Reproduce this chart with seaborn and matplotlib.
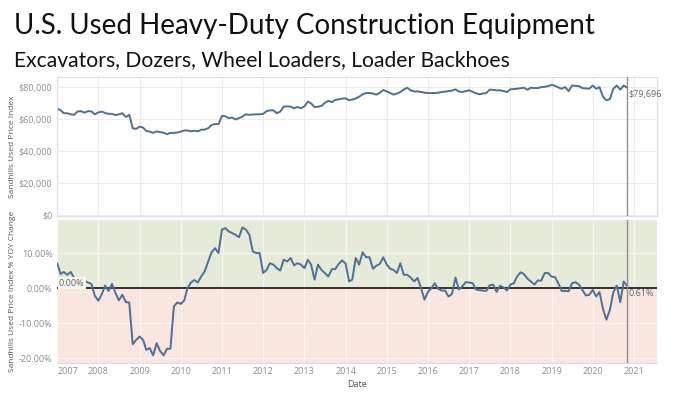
import pandas as pd
import seaborn as sns
import matplotlib.pyplot as plt
import matplotlib.dates as mdates

# monthly Sandhills used price index (thousand $), Jan 2007 - Nov 2020
price_2007 = [66.7, 65.5, 63.7, 63.7, 63.0, 62.7, 64.8, 65.0, 64.0, 65.0, 64.8, 63.0]
price_2008 = [64.2, 64.7, 63.8, 63.3, 63.3, 62.5, 63.0, 63.7, 61.4, 62.7, 54.3, 53.9]
price_2009 = [55.3, 54.7, 52.6, 52.2, 51.4, 52.4, 51.8, 51.6, 50.6, 51.4, 51.4, 51.6]
price_2010 = [52.2, 52.9, 52.9, 52.4, 52.8, 52.4, 53.4, 53.5, 54.3, 56.3, 57.0, 56.8]
price_2011 = [62.0, 61.8, 60.6, 61.0, 59.8, 60.6, 61.6, 63.0, 62.7, 62.9, 63.0, 63.0]
price_2012 = [63.3, 65.0, 65.5, 65.5, 63.7, 64.7, 67.8, 68.0, 67.8, 66.8, 67.6, 66.8]
price_2013 = [68.0, 71.0, 69.8, 67.5, 67.8, 68.2, 70.2, 71.4, 70.6, 72.0, 72.4, 72.8]
price_2014 = [73.0, 71.8, 72.2, 72.9, 74.0, 75.5, 76.3, 76.3, 76.0, 75.3, 76.5, 78.2]
price_2015 = [77.3, 76.3, 75.3, 76.0, 76.9, 78.5, 79.6, 78.0, 77.3, 77.3, 77.0, 76.5]
price_2016 = [76.3, 76.3, 76.3, 76.5, 76.9, 77.2, 77.5, 77.8, 78.6, 77.2, 77.0, 77.5]
price_2017 = [78.0, 77.0, 76.2, 75.5, 76.0, 76.3, 78.4, 78.3, 78.0, 78.0, 77.5, 76.9]
price_2018 = [78.6, 78.8, 79.0, 79.3, 79.6, 78.4, 79.6, 79.4, 79.4, 80.0, 80.2, 80.6]
price_2019 = [81.4, 80.8, 79.8, 79.0, 80.0, 77.5, 81.0, 80.8, 80.6, 79.4, 79.2, 79.0]
price_2020 = [81.0, 79.0, 80.0, 73.9, 71.8, 72.5, 79.0, 81.0, 78.4, 81.0, 79.696]

# year-over-year change (%)
yoy_2007 = [7.1, 4.0, 4.6, 3.8, 4.6, 2.9, 0.2, 0.2, 2.1, 1.6, 1.2, -2.2]
yoy_2008 = [-3.6, -1.7, 0.7, -0.8, 1.2, -1.4, -3.5, -1.9, -4.0, -4.1, -16.0, -14.8]
yoy_2009 = [-13.8, -14.8, -17.6, -17.1, -19.2, -15.7, -17.9, -19.2, -17.3, -17.3, -5.2, -4.1]
yoy_2010 = [-4.5, -3.5, 0.0, 1.6, 2.3, 1.6, 3.3, 4.8, 7.6, 10.2, 11.4, 10.0]
yoy_2011 = [16.7, 17.1, 16.2, 15.7, 15.2, 14.5, 17.3, 16.7, 15.2, 10.5, 10.0, 10.0]
yoy_2012 = [4.3, 5.2, 7.1, 6.7, 5.7, 5.0, 8.1, 7.6, 8.6, 6.5, 7.1, 6.7]
yoy_2013 = [5.7, 8.1, 6.7, 2.4, 6.7, 5.2, 4.3, 3.3, 5.4, 5.4, 6.9, 7.9]
yoy_2014 = [7.0, 1.9, 2.4, 8.6, 6.7, 10.2, 8.8, 8.8, 5.5, 6.4, 6.9, 8.8]
yoy_2015 = [6.7, 5.5, 5.2, 4.3, 7.1, 3.8, 3.8, 3.0, 1.9, 2.9, 0.0, -3.3]
yoy_2016 = [-1.1, 0.0, 1.4, -0.2, -0.7, -0.7, -2.4, -1.7, 3.0, -0.4, 0.5, 1.7]
yoy_2017 = [1.6, 1.4, -0.4, -0.6, -0.7, -0.8, 0.8, 1.0, -1.1, 0.7, 0.2, -0.7]
yoy_2018 = [1.0, 1.4, 3.3, 4.5, 4.0, 2.7, 1.9, 1.0, 2.2, 2.1, 4.3, 4.3]
yoy_2019 = [3.3, 3.1, 1.4, -0.8, -0.8, -0.9, 1.4, 1.7, 1.0, -0.5, -2.1, -1.9]
yoy_2020 = [-0.5, -2.4, -1.1, -6.0, -9.0, -6.2, -1.2, 0.7, -4.0, 1.9, 0.61]

years = list(range(2007, 2022))
price_ticks = [0, 20, 40, 60, 80]
yoy_ticks = [-20, -10, 0, 10]

price = sum([price_2007, price_2008, price_2009, price_2010, price_2011, price_2012,
             price_2013, price_2014, price_2015, price_2016, price_2017, price_2018,
             price_2019, price_2020], [])
yoy = sum([yoy_2007, yoy_2008, yoy_2009, yoy_2010, yoy_2011, yoy_2012, yoy_2013,
           yoy_2014, yoy_2015, yoy_2016, yoy_2017, yoy_2018, yoy_2019, yoy_2020], [])
df = pd.DataFrame({
    "Date": pd.date_range("2007-01-01", periods=len(price), freq="MS"),
    "price": price,
    "yoy": yoy,
})

sns.set_theme(style="white")
plt.rcParams["font.family"] = ["Open Sans", "DejaVu Sans"]

LINE = "#4f6f98"
TICK = "#8c8c8c"
GRID = "#ececec"
last_date = df["Date"].iloc[-1]
xmin, xmax = pd.Timestamp("2006-12-28"), pd.Timestamp("2021-07-20")

fig = plt.figure(figsize=(7, 3.93), dpi=100)
ax1 = fig.add_axes([0.081, 0.450, 0.857, 0.354])
ax2 = fig.add_axes([0.081, 0.076, 0.857, 0.364])

fig.text(0.02, 0.935, "U.S. Used Heavy-Duty Construction Equipment",
         fontsize=20, color="#111111", va="center", family=["Lato", "DejaVu Sans"])
fig.text(0.02, 0.848, "Excavators, Dozers, Wheel Loaders, Loader Backhoes",
         fontsize=15.2, color="#111111", va="center", family=["Lato", "DejaVu Sans"])

# top: price index
sns.lineplot(data=df, x="Date", y="price", ax=ax1, color=LINE, linewidth=1.4)
ax1.set_ylim(-0.6, 86.3)
ax1.set_yticks(price_ticks)
ax1.set_yticklabels([f"${v * 1000:,.0f}" for v in price_ticks])
ax1.set_ylabel("Sandhills Used Price Index", fontsize=6, color="#555555", labelpad=2)
ax1.set_xlabel("")
ax1.tick_params(axis="x", labelbottom=False, length=0)
ax1.text(last_date + pd.Timedelta(days=8), 75.5, "$79,696", fontsize=6.5, color="#666666",
         ha="left", va="center")

# bottom: YoY change
ax2.axhspan(0, 30, color="#e6ebd9", zorder=0)
ax2.axhspan(-30, 0, color="#f8e6df", zorder=0)
sns.lineplot(data=df, x="Date", y="yoy", ax=ax2, color=LINE, linewidth=1.4, zorder=3)
ax2.axhline(0, color="#111111", linewidth=1.2, zorder=2)
ax2.set_ylim(-21.4, 19.4)
ax2.set_yticks(yoy_ticks)
ax2.set_yticklabels([f"{v:.2f}%" for v in yoy_ticks])
ax2.set_ylabel("Sandhills Used Price Index % YOY Change", fontsize=6, color="#555555",
               labelpad=2)
ax2.set_xlabel("Date", fontsize=6.5, color="#555555", labelpad=3)
ax2.text(xmin + pd.Timedelta(days=20), 1.4, "0.00%", fontsize=6.5, color="#666666",
         ha="left", va="center",
         bbox=dict(boxstyle="square,pad=0.15", fc="#f4f6ee", ec="none"))
ax2.text(last_date + pd.Timedelta(days=8), -1.4, "0.61%", fontsize=6.5, color="#666666",
         ha="left", va="center")

for ax in (ax1, ax2):
    ax.set_xlim(xmin, xmax)
    ax.set_xticks([pd.Timestamp(f"{y}-01-01") for y in years])
    ax.xaxis.set_major_formatter(mdates.DateFormatter("%Y"))
    ax.grid(True, color=GRID, linewidth=0.8)
    ax.set_axisbelow(True)
    ax.tick_params(axis="both", labelsize=6.5, labelcolor=TICK, length=0, pad=3)
    ax.axvline(last_date, color="#8f8f8f", linewidth=1.0, zorder=4)
    for side in ("top", "right", "bottom", "left"):
        ax.spines[side].set_color("#dddddd")
        ax.spines[side].set_linewidth(0.8)

ax2.grid(True, color="#ffffff", linewidth=0.8, alpha=0.6)
ax2.spines["left"].set_visible(False)
ax2.spines["right"].set_visible(False)
ax2.spines["top"].set_visible(False)
labels = ax2.get_xticklabels()
labels[0].set_ha("left")

fig.savefig("out.png", dpi=100)
